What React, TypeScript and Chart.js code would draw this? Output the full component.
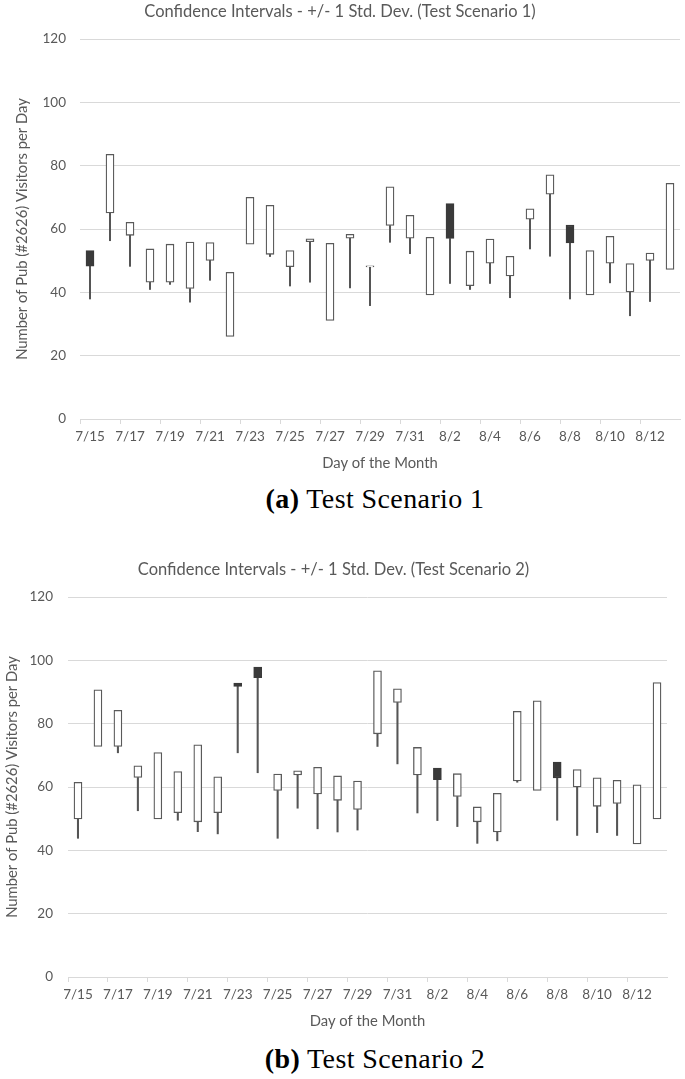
import React, { useEffect, useRef } from 'react';
import { Chart, registerables } from 'chart.js';

Chart.register(...registerables);

const FONT = 'Lato';
const TEXT = '#595959';
const GRID = '#d9d9d9';

const days = [
  '7/15', '7/16', '7/17', '7/18', '7/19', '7/20', '7/21', '7/22', '7/23', '7/24',
  '7/25', '7/26', '7/27', '7/28', '7/29', '7/30', '7/31', '8/1', '8/2', '8/3',
  '8/4', '8/5', '8/6', '8/7', '8/8', '8/9', '8/10', '8/11', '8/12', '8/13',
];

const yTicks = [0, 20, 40, 60, 80, 100, 120];

// Test Scenario 1
const open1 = [
  53.2, 65.1, 58.0, 43.2, 43.2, 41.2, 50.1, 26.1, 55.2, 52.0,
  48.1, 56.0, 31.1, 57.1, 48.0, 61.1, 57.1, 39.2, 68.0, 42.1,
  49.2, 45.2, 63.1, 71.0, 61.2, 39.2, 49.2, 40.1, 50.1, 47.2,
];
const close1 = [
  48.3, 83.6, 62.1, 53.7, 55.2, 55.9, 55.7, 46.3, 70.0, 67.5,
  53.2, 56.9, 55.5, 58.3, 48.4, 73.3, 64.3, 57.4, 57.0, 53.0,
  56.8, 51.4, 66.4, 77.1, 55.6, 53.2, 57.7, 49.1, 52.4, 74.4,
];
const low1 = [
  37.9, 56.3, 48.2, 40.9, 42.5, 36.9, 43.8, 26.1, 55.2, 51.3,
  42.0, 43.2, 31.1, 41.4, 35.8, 55.8, 52.2, 39.2, 42.8, 40.9,
  42.8, 38.3, 53.7, 51.4, 37.9, 39.2, 43.0, 32.6, 37.1, 47.2,
];

// Test Scenario 2
const open2 = [
  49.9, 72.8, 72.8, 63.0, 49.9, 51.9, 49.0, 51.9, 92.8, 97.9,
  58.9, 63.8, 57.8, 55.8, 52.9, 76.8, 86.7, 63.8, 66.0, 57.0,
  49.0, 45.8, 61.9, 58.9, 67.9, 60.0, 53.9, 54.8, 42.0, 49.9,
];
const close2 = [
  61.5, 90.7, 84.2, 66.7, 70.9, 64.9, 73.3, 63.2, 91.8, 94.5,
  64.1, 65.1, 66.2, 63.5, 61.9, 96.7, 91.0, 72.5, 62.3, 64.2,
  53.7, 58.0, 83.9, 87.2, 62.9, 65.5, 62.9, 62.1, 60.7, 93.0,
];
const low2 = [
  43.8, 72.8, 70.8, 52.5, 49.9, 49.5, 45.9, 45.2, 70.8, 64.5,
  43.8, 53.3, 46.8, 45.8, 46.4, 72.8, 67.3, 51.8, 49.4, 47.5,
  42.2, 43.0, 61.5, 58.9, 49.5, 44.7, 45.6, 44.7, 42.0, 49.9,
];

type Props = {
  title: string;
  open: number[];
  close: number[];
  low: number[];
  yAxisWidth: number;
  rightPad: number;
  yTickPad: number;
  yTitlePad: number;
};

function CandleChart({ title, open, close, low, yAxisWidth, rightPad, yTickPad, yTitlePad }: Props) {
  const ref = useRef<HTMLCanvasElement>(null);
  useEffect(() => {
    if (!ref.current) return;
    const boxes = open.map((o, i) => [Math.min(o, close[i]), Math.max(o, close[i])]);
    const wicks = low.map((l, i) => {
      const b = Math.min(open[i], close[i]);
      return l < b ? [l, b] : null;
    });
    const fills = open.map((o, i) => (o > close[i] ? '#3a3a3a' : '#ffffff'));
    const borders = open.map((o, i) => (o > close[i] ? '#3a3a3a' : '#5a5a5a'));
    const chart = new Chart(ref.current, {
      type: 'bar',
      data: {
        labels: days,
        datasets: [
          {
            data: wicks as any,
            backgroundColor: '#555555',
            borderWidth: 0,
            barThickness: 1.4,
            grouped: false,
            order: 2,
          } as any,
          {
            data: boxes as any,
            backgroundColor: fills,
            borderColor: borders,
            borderWidth: 1.3,
            borderSkipped: false,
            barThickness: 8,
            grouped: false,
            order: 1,
          } as any,
        ],
      },
      options: {
        animation: false,
        responsive: false,
        devicePixelRatio: 1,
        layout: { padding: { top: 0, right: rightPad, left: 0, bottom: 0 } },
        plugins: {
          legend: { display: false },
          tooltip: { enabled: false },
          title: {
            display: true,
            text: title,
            color: TEXT,
            font: { family: FONT, size: 16.5, weight: 'normal' },
            padding: { top: 2.1, bottom: 17.1 },
          },
        },
        scales: {
          x: {
            offset: true,
            border: { display: true, color: GRID, width: 1 },
            grid: {
              display: true,
              drawOnChartArea: false,
              drawTicks: true,
              tickLength: 5,
              offset: true,
              color: (ctx: any) => (ctx.index % 2 === 0 ? GRID : 'rgba(0,0,0,0)'),
            },
            ticks: {
              autoSkip: false,
              maxRotation: 0,
              minRotation: 0,
              padding: 5,
              color: TEXT,
              font: { family: FONT, size: 13.5 },
              callback: (_v: any, i: number) => (i % 2 === 0 ? days[i] : ''),
            },
            title: {
              display: true,
              text: 'Day of the Month',
              color: TEXT,
              font: { family: FONT, size: 14.8 },
              padding: { top: 0, bottom: 7.6 },
            },
            afterFit: (s: any) => {
              s.height = 61;
            },
          } as any,
          y: {
            min: yTicks[0],
            max: yTicks[yTicks.length - 1],
            border: { display: false },
            grid: { color: GRID, drawTicks: false, lineWidth: 1 },
            afterBuildTicks: (s: any) => {
              s.ticks = yTicks.map((v) => ({ value: v }));
            },
            ticks: {
              padding: yTickPad,
              color: TEXT,
              font: { family: FONT, size: 13.5 },
            },
            title: {
              display: true,
              text: 'Number of Pub (#2626) Visitors per Day',
              color: TEXT,
              font: { family: FONT, size: 14.8 },
              padding: { top: yTitlePad, bottom: 0 },
            },
            afterFit: (s: any) => {
              s.width = yAxisWidth;
            },
          } as any,
        },
      },
    });
    return () => chart.destroy();
  }, []);
  return <canvas ref={ref} width={685} height={480} style={{ display: 'block', width: 685, height: 480 }} />;
}

const captionStyle: React.CSSProperties = {
  position: 'absolute',
  left: 175,
  width: 400,
  textAlign: 'center',
  fontFamily: '"Liberation Serif", serif',
  fontSize: 28,
  lineHeight: '32px',
  letterSpacing: 0.4,
  color: '#000',
  whiteSpace: 'nowrap',
};

export default function App() {
  return (
    <div style={{ position: 'absolute', left: 0, top: 0, width: 685, height: 1079, background: '#fff', overflow: 'hidden' }}>
      <div style={{ position: 'absolute', left: 0, top: 0 }}>
        <CandleChart
          title="Confidence Intervals - +/- 1 Std. Dev. (Test Scenario 1)"
          open={open1}
          close={close1}
          low={low1}
          yAxisWidth={80}
          rightPad={5}
          yTickPad={14}
          yTitlePad={13.1}
        />
      </div>
      <div style={{ ...captionStyle, top: 483 }}>
        <b>(a)</b> Test Scenario 1
      </div>
      <div style={{ position: 'absolute', left: 0, top: 558 }}>
        <CandleChart
          title="Confidence Intervals - +/- 1 Std. Dev. (Test Scenario 2)"
          open={open2}
          close={close2}
          low={low2}
          yAxisWidth={68}
          rightPad={18}
          yTickPad={15}
          yTitlePad={3.1}
        />
      </div>
      <div style={{ ...captionStyle, top: 1043 }}>
        <b>(b)</b> Test Scenario 2
      </div>
    </div>
  );
}
